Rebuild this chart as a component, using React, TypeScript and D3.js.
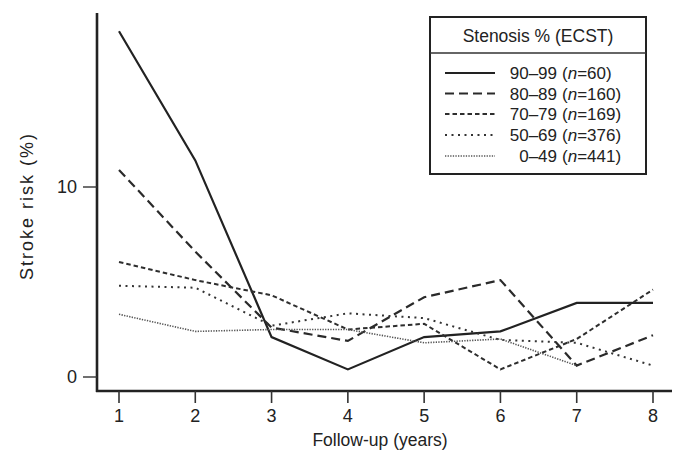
import React from "react";
import * as d3 from "d3";

const years = [1, 2, 3, 4, 5, 6, 7, 8];
const s90_99 = [18.2, 11.4, 2.1, 0.4, 2.1, 2.4, 3.9, 3.9];
const s80_89 = [10.9, 6.6, 2.6, 1.9, 4.2, 5.1, 0.6, 2.2];
const s70_79 = [6.05, 5.1, 4.3, 2.5, 2.8, 0.4, 2.0, 4.6];
const s50_69 = [4.8, 4.7, 2.7, 3.35, 3.1, 1.95, 1.8, 0.6];
const s0_49 = [3.3, 2.4, 2.5, 2.5, 1.8, 2.0, 0.6];
const rangeLabels = ["90–99", "80–89", "70–79", "50–69", "0–49"];
const nLabels = ["60", "160", "169", "376", "441"];
const yTicks = [0, 10];
const legendTitle = "Stenosis % (ECST)";
const xTitle = "Follow-up (years)";
const yTitle = "Stroke risk (%)";

const seriesData = [s90_99, s80_89, s70_79, s50_69, s0_49];
const styles = [
  { dash: "none", w: 2.2, c: "#222" },
  { dash: "9,5", w: 2.2, c: "#2a2a2a" },
  { dash: "4.5,3", w: 2, c: "#2e2e2e" },
  { dash: "2,4.5", w: 2, c: "#333" },
  { dash: "1.3,1.3", w: 1.6, c: "#555" },
];

const FONT = "'Liberation Sans', Arial, Helvetica, sans-serif";
const TXT = "#222";

export default function App() {
  const x = d3.scaleLinear().domain([1, 8]).range([119, 653]);
  const y = d3.scaleLinear().domain([0, 10]).range([377, 187]);
  const line = d3
    .line<number>()
    .x((_, i) => x(years[i]))
    .y((d) => y(d));

  const axisX0 = 97;
  const axisY0 = 391;
  const legendRows = [73, 93.5, 114, 135, 156];

  return (
    <svg
      width={679}
      height={453}
      style={{ position: "absolute", left: 0, top: 0, background: "#fff" }}
      fontFamily={FONT}
    >
      <rect width={679} height={453} fill="#fff" />
      {seriesData.map((s, i) => (
        <path
          key={i}
          d={line(s) || ""}
          fill="none"
          stroke={styles[i].c}
          strokeWidth={styles[i].w}
          strokeDasharray={styles[i].dash}
          strokeLinejoin="miter"
        />
      ))}
      <line x1={axisX0} x2={axisX0} y1={13} y2={axisY0 + 1} stroke="#222" strokeWidth={2.6} />
      <line x1={axisX0 - 1} x2={672} y1={axisY0} y2={axisY0} stroke="#222" strokeWidth={2.6} />
      {yTicks.map((t) => (
        <g key={t}>
          <line x1={83} x2={axisX0} y1={y(t)} y2={y(t)} stroke="#333" strokeWidth={1.4} />
          <text x={77} y={y(t)} dy="0.36em" textAnchor="end" fontSize={18} fill={TXT}>
            {t}
          </text>
        </g>
      ))}
      {years.map((t) => (
        <g key={t}>
          <line x1={x(t)} x2={x(t)} y1={axisY0} y2={403} stroke="#333" strokeWidth={1.6} />
          <text x={x(t)} y={421.5} textAnchor="middle" fontSize={18} fill={TXT}>
            {t}
          </text>
        </g>
      ))}
      <text x={380} y={446} textAnchor="middle" fontSize={17.5} fill={TXT}>
        {xTitle}
      </text>
      <text
        transform="translate(33,206) rotate(-90)"
        textAnchor="middle"
        fontSize={18}
        letterSpacing={2}
        fill={TXT}
      >
        {yTitle}
      </text>
      <rect x={430} y={17} width={216} height={157} fill="#fff" stroke="#222" strokeWidth={2} />
      <line x1={430} x2={646} y1={53} y2={53} stroke="#333" strokeWidth={1.3} />
      <text x={538} y={42} textAnchor="middle" fontSize={17.5} fill={TXT}>
        {legendTitle}
      </text>
      {rangeLabels.map((r, i) => (
        <g key={r}>
          <line
            x1={445}
            x2={495}
            y1={legendRows[i]}
            y2={legendRows[i]}
            stroke={styles[i].c}
            strokeWidth={styles[i].w}
            strokeDasharray={styles[i].dash}
          />
          <text x={557} y={legendRows[i]} dy="0.36em" textAnchor="end" fontSize={17} fill={TXT}>
            {r}
          </text>
          <text x={562} y={legendRows[i]} dy="0.36em" fontSize={17} fill={TXT}>
            (<tspan fontStyle="italic">n</tspan>={nLabels[i]})
          </text>
        </g>
      ))}
    </svg>
  );
}
